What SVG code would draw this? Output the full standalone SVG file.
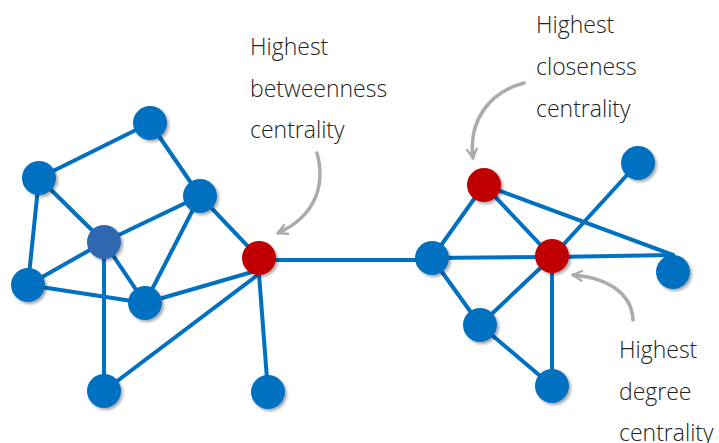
<svg xmlns="http://www.w3.org/2000/svg" width="719" height="443" viewBox="0 0 719 443">
  <style>
    .edge { stroke: #0070c0; stroke-width: 4; fill: none; stroke-linecap: round; }
    .node { fill: #0070c0; filter: url(#shadow); }
    .hub { fill: #2e67b1; filter: url(#shadow); }
    .key { fill: #c00000; filter: url(#shadow); }
    .label { font-family: "Open Sans", "Liberation Sans", sans-serif; font-weight: 300; font-size: 23px; fill: #222222; }
    .pointer { stroke: #ababab; stroke-width: 3.5; fill: none; stroke-linecap: round; marker-end: url(#chevron); }
  </style>
  <defs>
    <filter id="shadow" x="-40%" y="-40%" width="180%" height="180%">
      <feGaussianBlur in="SourceAlpha" stdDeviation="1.5"/>
      <feOffset dx="1.5" dy="2" result="b"/>
      <feComponentTransfer><feFuncA type="linear" slope="0.35"/></feComponentTransfer>
      <feMerge><feMergeNode/><feMergeNode in="SourceGraphic"/></feMerge>
    </filter>
    <marker id="chevron" viewBox="0 0 12 12" refX="10" refY="6" markerWidth="12" markerHeight="12" markerUnits="userSpaceOnUse" orient="auto">
      <path d="M1,1 L10,6 L1,11" fill="none" stroke="#ababab" stroke-width="2.4" stroke-linecap="round" stroke-linejoin="round"/>
    </marker>
  </defs>
  <rect width="719" height="443" fill="#ffffff"/>

  <!-- connectors -->
  <g id="edges">
    <line class="edge" x1="150" y1="123" x2="39" y2="178"/>
    <line class="edge" x1="150" y1="123" x2="200" y2="196"/>
    <line class="edge" x1="39" y1="178" x2="104" y2="242"/>
    <line class="edge" x1="39" y1="178" x2="28" y2="285"/>
    <line class="edge" x1="104" y1="242" x2="200" y2="196"/>
    <line class="edge" x1="104" y1="242" x2="28" y2="285"/>
    <line class="edge" x1="104" y1="242" x2="145" y2="303"/>
    <line class="edge" x1="104" y1="242" x2="104" y2="391"/>
    <line class="edge" x1="200" y1="196" x2="145" y2="303"/>
    <line class="edge" x1="200" y1="196" x2="259" y2="258"/>
    <line class="edge" x1="28" y1="285" x2="145" y2="303"/>
    <line class="edge" x1="145" y1="303" x2="259" y2="270"/>
    <line class="edge" x1="104" y1="391" x2="259" y2="274"/>
    <line class="edge" x1="268" y1="392" x2="259" y2="274"/>
    <line class="edge" x1="259" y1="260" x2="432" y2="260"/>
    <line class="edge" x1="432" y1="258" x2="484" y2="185"/>
    <line class="edge" x1="432" y1="258" x2="552" y2="257"/>
    <line class="edge" x1="432" y1="258" x2="480" y2="325"/>
    <line class="edge" x1="484" y1="185" x2="552" y2="257"/>
    <line class="edge" x1="484" y1="185" x2="673" y2="255"/>
    <line class="edge" x1="552" y1="257" x2="638" y2="163"/>
    <line class="edge" x1="552" y1="257" x2="673" y2="255"/>
    <line class="edge" x1="552" y1="257" x2="480" y2="325"/>
    <line class="edge" x1="552" y1="257" x2="552" y2="386"/>
    <line class="edge" x1="480" y1="325" x2="552" y2="386"/>
  </g>

  <!-- nodes -->
  <g id="n-a"><circle class="node" cx="150" cy="123" r="17"/></g>
  <g id="n-b"><circle class="node" cx="39" cy="178" r="17"/></g>
  <g id="n-c"><circle class="hub" cx="104" cy="242" r="17"/></g>
  <g id="n-d"><circle class="node" cx="200" cy="196" r="17"/></g>
  <g id="n-e"><circle class="node" cx="28" cy="285" r="17"/></g>
  <g id="n-f"><circle class="node" cx="145" cy="303" r="17"/></g>
  <g id="n-g"><circle class="node" cx="104" cy="391" r="17"/></g>
  <g id="n-h"><circle class="key" cx="259" cy="258" r="17"/></g>
  <g id="n-i"><circle class="node" cx="268" cy="392" r="17"/></g>
  <g id="n-j"><circle class="node" cx="432" cy="258" r="17"/></g>
  <g id="n-k"><circle class="key" cx="484" cy="185" r="17"/></g>
  <g id="n-l"><circle class="key" cx="552" cy="256" r="17"/></g>
  <g id="n-m"><circle class="node" cx="638" cy="163" r="17"/></g>
  <g id="n-n"><circle class="node" cx="673" cy="272" r="17"/></g>
  <g id="n-o"><circle class="node" cx="480" cy="325" r="17"/></g>
  <g id="n-p"><circle class="node" cx="552" cy="386" r="17"/></g>

  <!-- annotations -->
  <g id="note-betweenness">
    <text class="label" x="250" y="55">Highest</text>
    <text class="label" x="250" y="97">betweenness</text>
    <text class="label" x="250" y="138">centrality</text>
    <path class="pointer" d="M317,153 C325,182 318,215 278,233"/>
  </g>
  <g id="note-closeness">
    <text class="label" x="536" y="33">Highest</text>
    <text class="label" x="536" y="75">closeness</text>
    <text class="label" x="536" y="117">centrality</text>
    <path class="pointer" d="M524,83 C490,92 468,120 473,158"/>
  </g>
  <g id="note-degree">
    <text class="label" x="619" y="358">Highest</text>
    <text class="label" x="619" y="400">degree</text>
    <text class="label" x="619" y="441">centrality</text>
    <path class="pointer" d="M633,320 C632,295 610,278 573,275"/>
  </g>
</svg>
